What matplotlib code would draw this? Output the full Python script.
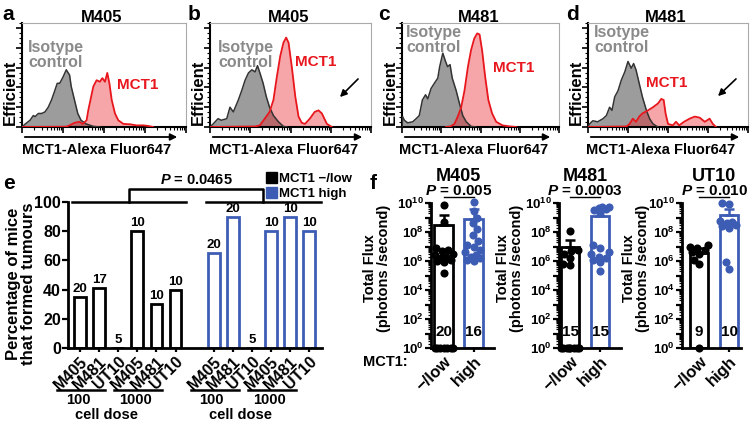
"""MCT1 flow histograms, tumour formation and bioluminescence flux panels."""

import matplotlib
matplotlib.use("Agg")
import matplotlib.pyplot as plt
import numpy as np
from matplotlib.patches import FancyArrowPatch, Patch
from matplotlib.ticker import FixedLocator, FuncFormatter, LogLocator, NullFormatter

plt.rcParams["font.family"] = ["Liberation Sans", "DejaVu Sans"]
plt.rcParams["font.weight"] = "bold"
plt.rcParams["mathtext.fontset"] = "custom"
plt.rcParams["mathtext.rm"] = "Liberation Sans:bold"
plt.rcParams["mathtext.it"] = "Liberation Sans:italic:bold"
plt.rcParams["mathtext.bf"] = "Liberation Sans:bold"

BLUE = "#3d5db4"
RED = "#e8161d"
GREY_FILL = "#9c9c9c"
GREY_TEXT = "#8a8a8a"

# ---- panels a-d: histograms (x, y as % of the plot box) ----
a_iso_x = [0, 1.8, 4.9, 6.9, 8, 10, 12, 14, 16, 18, 20, 21.5, 23, 25, 27, 29, 30, 32, 34, 36, 39, 43.5, 47.5]
a_iso_y = [0, 2.6, 6.5, 11, 10, 13, 13, 14.5, 19, 26, 35, 42, 42, 48, 55, 50, 39, 26, 13, 6.5, 3, 0.6, 0]
a_mct_x = [0, 27, 29, 32, 35, 37, 39.4, 40.4, 43.5, 45.5, 47.5, 49, 50.6, 52, 53.3, 54.7, 56.7, 58.7,
           61.8, 66, 70, 74, 77, 80]
a_mct_y = [0, 0.3, 1.6, 4, 5, 3, 6.5, 16, 39, 45, 43.5, 47, 43.5, 52, 42, 26, 13, 6.5, 3, 2.6, 1.5,
           1.6, 1, 0]

b_iso_x = [0, 2, 5, 7, 10.4, 12.4, 14.5, 17.6, 19.7, 21.8, 23.9, 26, 28, 29.5, 31, 33, 35, 37, 39.4,
           42.5, 45.6, 47.7]
b_iso_y = [0, 3, 8, 6.5, 8, 19, 14.5, 26, 35, 45, 52, 55, 53, 59, 52, 42, 29, 19, 11, 5, 0.6, 0]
b_mct_x = [0, 28, 31, 34, 37, 39.4, 41.5, 43.6, 45.6, 47.3, 48.8, 50.8, 53, 55, 57, 59, 62, 65, 67.4,
           69.5, 72.6, 75.7]
b_mct_y = [0, 0.5, 1.6, 8, 14.5, 26, 48, 68, 81, 86, 81, 58, 29, 10, 4, 3, 8, 14.5, 16, 13, 3, 0]

c_iso_x = [0, 0.4, 1.5, 3.6, 6.8, 9, 11, 13, 15, 16.4, 18.5, 20.6, 22.8, 24, 26, 27.4, 29, 30.6, 32,
           34.5, 36.6, 38.7, 40.9, 44, 47]
c_iso_y = [0, 10, 6.5, 4, 5, 8, 11, 26, 31, 27, 37, 42, 47, 58, 71, 64.5, 58, 60, 47, 35, 22.6, 11,
           5, 0.6, 0]
c_mct_x = [28, 31, 33.4, 35.5, 37.7, 39.8, 42, 44, 46, 47.9, 49.4, 51, 53, 55, 57.4, 60, 64, 68.5, 72.8]
c_mct_y = [0, 0.6, 3, 10, 19, 35, 58, 74, 85, 90, 89, 74, 48, 26, 13, 5, 1.6, 0.6, 0]

d_iso_x = [0, 1, 3, 6, 9.4, 11.5, 13.5, 15, 16.7, 18.8, 20.8, 23, 25, 27, 28.5, 30, 32, 34, 36.5,
           38.5, 40.6, 43.7]
d_iso_y = [0, 3, 6, 5, 8, 11, 19, 16, 29, 35, 45, 53, 63, 56.5, 61, 55, 42, 29, 16, 8, 3, 0]
d_mct_x = [0, 24, 26, 28, 30, 32, 34, 37.5, 40.6, 43.7, 45.8, 47.3, 48.5, 50, 53, 55, 57, 60, 63.5,
           66.7, 69.8, 73, 76, 78, 80]
d_mct_y = [0, 0.5, 3, 8, 5, 10, 13, 16, 19, 22.6, 27, 26, 13, 3, 1.6, 5, 1.6, 5, 8, 10, 9, 5, 8, 3, 0]

hist_titles = ["M405", "M405", "M481", "M481"]

# ---- panel e: tumour formation ----
e_lines = ["M405", "M481", "UT10", "M405", "M481", "UT10"]
e_doses = ["100", "1000"]
e_low_pct = [35, 41, 0, 80, 30, 40]
e_high_pct = [65, 90, 0, 80, 90, 80]
e_low_n = [20, 17, 5, 10, 10, 10]
e_high_n = [20, 20, 5, 10, 10, 10]
e_pvalue = "0.0465"

# ---- panel f: total flux (photons/second), 0 = no signal ----
f_lines = ["M405", "M481", "UT10"]
f_pvalues = ["0.005", "0.0003", "0.010"]
m405_low = [7e9, 5e8, 8e6, 6e6, 5e6, 3e6, 2.5e6, 2e6, 1.6e6, 1.2e6, 1e6, 8e5, 1.6e5,
            0, 0, 0, 0, 0, 0, 0]
m405_high = [1.2e10, 3e9, 1e9, 4e8, 1.6e8, 6e7, 2.5e7, 1.2e7, 1e7, 6e6, 4e6, 2.5e6, 2e6,
             1.6e6, 1.2e6, 1e6]
m481_low = [1.2e8, 6e6, 5e6, 3e6, 1.6e6, 6e5, 5e5, 0, 0, 0, 0, 0, 0, 0, 0]
m481_high = [5e9, 5e9, 4.5e9, 4e9, 3.5e9, 2e9, 1.2e7, 8e6, 4e6, 3e6, 2e6, 1.6e6, 1.2e6, 8e5, 2e5]
ut10_low = [1.2e7, 1e7, 8e6, 6e6, 4e6, 3e6, 1.2e6, 6e5, 0]
ut10_high = [1e10, 9e9, 6e8, 5e8, 4e8, 3e8, 2.5e8, 2e8, 8e5, 3e5]
f_low_mean = [3e8, 9e6, 3.5e6]
f_high_mean = [8e8, 1.2e9, 1.5e9]
f_low_err = [1.6e9, 3e7, 8e6]
f_high_err = [4e9, 4e9, 4e9]

W, H = 752, 421
fig = plt.figure(figsize=(W / 100, H / 100), dpi=100)


def px_box(x0, y0, x1, y1):
    return [x0 / W, 1 - y1 / H, (x1 - x0) / W, (y1 - y0) / H]


def fpt(x, y):
    return (x / W, 1 - y / H)


def ftext(x, y, s, **kw):
    fig.text(*fpt(x, y), s, **kw)


# ---------------- a-d ----------------
hist_boxes = [(22, 186), (210, 371), (402, 559), (588, 748)]
hist_data = [(a_iso_x, a_iso_y, a_mct_x, a_mct_y), (b_iso_x, b_iso_y, b_mct_x, b_mct_y),
             (c_iso_x, c_iso_y, c_mct_x, c_mct_y), (d_iso_x, d_iso_y, d_mct_x, d_mct_y)]
iso_pos = [(28, 55), (218, 55), (406, 40), (594, 40)]
mct_pos = [(117, 85), (295, 62), (493, 68), (646, 83)]
arrows = [None, ((360, 77), (338, 99)), None, ((738, 77), (716, 98))]
letters = ["a", "b", "c", "d"]
letter_x = [2, 188, 378, 566]
bottom_minor = [25 * (d + np.log10(k)) for d in range(4) for k in range(2, 10)]

for i, (x0, x1) in enumerate(hist_boxes):
    ax = fig.add_axes(px_box(x0, 23, x1, 127))
    ix, iy, mx, my = hist_data[i]
    ax.fill_between(ix, iy, color=GREY_FILL, lw=0, zorder=1)
    ax.fill_between(mx, my, color=RED, alpha=0.38, lw=0, zorder=2)
    ax.plot(ix, iy, color="#333333", lw=1.1, zorder=3)
    ax.plot(mx, my, color=RED, lw=1.3, zorder=4)
    ax.set_xlim(0, 100)
    ax.set_ylim(0, 100)
    for s in ("top", "right"):
        ax.spines[s].set_color("#aaaaaa")
        ax.spines[s].set_linewidth(0.8)
    for s in ("left", "bottom"):
        ax.spines[s].set_linewidth(1.5)
    ax.xaxis.set_major_locator(FixedLocator([0, 25, 50, 75, 100]))
    ax.xaxis.set_minor_locator(FixedLocator(bottom_minor))
    ax.yaxis.set_major_locator(FixedLocator([0, 19, 38, 57, 76, 95]))
    ax.yaxis.set_minor_locator(FixedLocator(np.arange(0, 100, 4.75)))
    ax.tick_params(which="major", direction="out", length=4, width=1.2, labelbottom=False,
                   labelleft=False)
    ax.tick_params(which="minor", direction="out", length=2, width=0.8)

    xc = (x0 + x1) / 2
    ftext(xc - 2, 22, hist_titles[i], fontsize=12, ha="center", va="baseline")
    ftext(letter_x[i], 20, letters[i], fontsize=15, ha="left", va="baseline")
    ftext(x0 - 12, 92, "Efficient", fontsize=12, rotation=90, ha="center", va="center")
    ftext(xc - 7, 150, "MCT1-Alexa Fluor647", fontsize=10.5, ha="center", va="center")
    ftext(iso_pos[i][0], iso_pos[i][1], "Isotype\ncontrol", fontsize=11.5, color=GREY_TEXT,
          ha="left", va="center", linespacing=0.92)
    ftext(mct_pos[i][0], mct_pos[i][1], "MCT1", fontsize=11, color=RED, ha="left", va="center")
    fig.add_artist(FancyArrowPatch(fpt(x0, 137), fpt(x1 - 6, 137), transform=fig.transFigure,
                                   arrowstyle="-|>", mutation_scale=10, lw=1.3, color="black"))
    if arrows[i] is not None:
        (sx, sy), (ex, ey) = arrows[i]
        fig.add_artist(FancyArrowPatch(fpt(sx, sy), fpt(ex, ey), transform=fig.transFigure,
                                       arrowstyle="-|>", mutation_scale=10, lw=1.2,
                                       color="black"))

# ---------------- e ----------------
ax = fig.add_axes(px_box(68, 202, 322, 348))
low_pos = np.arange(6)
high_pos = np.arange(7, 13)
ax.bar(low_pos, e_low_pct, width=0.62, facecolor="white", edgecolor="black", linewidth=2, zorder=2)
ax.bar(high_pos, e_high_pct, width=0.62, facecolor="white", edgecolor=BLUE, linewidth=2, zorder=2)
for pos, vals, ns in ((low_pos, e_low_pct, e_low_n), (high_pos, e_high_pct, e_high_n)):
    for p, v, n in zip(pos, vals, ns):
        ax.text(p, v + 1.2, str(n), fontsize=9.5, ha="center", va="bottom")
ax.set_xlim(-0.63, 12.67)
ax.set_ylim(0, 100)
ax.spines[["top", "right"]].set_visible(False)
ax.spines[["left", "bottom"]].set_linewidth(2)
ax.set_yticks([0, 20, 40, 60, 80, 100])
ax.set_xticks(np.concatenate([low_pos, high_pos]))
ax.set_xticklabels(e_lines + e_lines, rotation=45, ha="right", rotation_mode="anchor", fontsize=11.5)
ax.tick_params(axis="y", length=4, width=1.6, labelsize=11.5, pad=1)
ax.tick_params(axis="x", length=3, width=1.6, pad=1)

# significance bracket across both groups
kw = dict(color="black", lw=1.8, clip_on=False)
ax.plot([-0.42, 5.55], [100, 100], **kw)
ax.plot([6.6, 12.6], [100, 100], **kw)
ax.plot([2.57, 2.57, 9.6, 9.6], [100, 109, 109, 100], **kw)
ax.text(6.08, 112.5, rf"$\mathit{{P}}$ = {e_pvalue}", fontsize=10.5, ha="center", va="baseline")
for g, dose in zip([0, 3, 7, 10], e_doses + e_doses):
    ax.plot([g - 1.2, g + 1.3], [-28.8, -28.8], **kw)
    ax.text(g - 0.1, -35.8, dose, fontsize=10.5, ha="center", va="center")
for g in [2.0, 9.0]:
    ax.text(g - 0.6, -46.2, "cell dose", fontsize=10.5, ha="center", va="center")

handles = [Patch(facecolor="black", edgecolor="black"), Patch(facecolor=BLUE, edgecolor=BLUE)]
fig.legend(handles, ["MCT1 \u2212/low", "MCT1 high"], loc="upper left",
           bbox_to_anchor=fpt(266, 172), frameon=False, fontsize=9.5, handlelength=0.8,
           handleheight=0.9, handletextpad=0.2, labelspacing=0.12, borderpad=0, borderaxespad=0)
ftext(21, 284, "Percentage of mice\nthat formed tumours", fontsize=12, rotation=90,
      ha="center", va="center", linespacing=0.95)
ftext(3, 189, "e", fontsize=15, ha="left", va="baseline")


# ---------------- f ----------------
def swarm(vals, unit_px, dec_px, diam=7.0, max_off=9.0):
    """Deterministic beeswarm x offsets (in data units)."""
    ys = np.log10(np.maximum(vals, 1.0)) * dec_px
    placed = []
    offs = np.zeros(len(vals))
    cands = sorted(np.arange(-max_off, max_off + 0.25, 0.5), key=abs)
    for i in np.argsort(ys):
        best, best_d = 0.0, -1.0
        for c in cands:
            d = min((np.hypot(c - px, ys[i] - py) for px, py in placed), default=np.inf)
            if d >= diam:
                best = c
                break
            if d > best_d:
                best, best_d = c, d
        placed.append((best, ys[i]))
        offs[i] = best / unit_px
    return offs


f_boxes = [(431, 494, -0.42), (559, 621, -0.37), (682, 741, -0.57)]
f_label_x = [377, 510, 636]
f_low = [m405_low, m481_low, ut10_low]
f_high = [m405_high, m481_high, ut10_high]

for i, (x0, x1, left) in enumerate(f_boxes):
    ax = fig.add_axes(px_box(x0, 203, x1, 348))
    ax.set_yscale("log")
    ax.set_ylim(1, 1e10)
    ax.set_xlim(left, left + (x1 - x0) / 30)
    for xpos, mean, err, vals, col in ((0, f_low_mean[i], f_low_err[i], f_low[i], "black"),
                                       (1, f_high_mean[i], f_high_err[i], f_high[i], BLUE)):
        ax.bar(xpos, mean - 1, bottom=1, width=0.62, facecolor="white", edgecolor=col,
               linewidth=2, zorder=2)
        ax.errorbar(xpos, mean, yerr=[[0], [err - mean]], fmt="none", ecolor=col,
                    elinewidth=1.8, capsize=3.5, capthick=1.8, zorder=3)
        offs = swarm(vals, 30, 14.5)
        ax.scatter(xpos + offs, np.maximum(vals, 1), s=34, color=col, lw=0, zorder=4,
                   clip_on=False)
        ax.text(xpos, 10 ** 0.83, str(len(vals)), fontsize=11, ha="center", va="baseline",
                zorder=5)
    ax.plot([0, 1], [10 ** 10.41, 10 ** 10.41], color="black", lw=1, clip_on=False)
    ax.text(0.5, 10 ** 10.55, rf"$\mathit{{P}}$ = {f_pvalues[i]}", fontsize=11, ha="center",
            va="baseline")
    ax.text(0.5, 10 ** 11.55, f_lines[i], fontsize=13, ha="center", va="baseline")
    ax.spines[["top", "right"]].set_visible(False)
    ax.spines[["left", "bottom"]].set_linewidth(2)
    ax.yaxis.set_major_locator(LogLocator(base=10, numticks=12))
    ax.yaxis.set_minor_locator(LogLocator(base=10, subs=np.arange(2, 10), numticks=12))
    ax.yaxis.set_minor_formatter(NullFormatter())
    ax.yaxis.set_major_formatter(FuncFormatter(
        lambda v, p: f"$10^{{{int(round(np.log10(v)))}}}$" if round(np.log10(v)) % 2 == 0 else ""))
    ax.tick_params(axis="y", which="major", length=4, width=1.6, labelsize=9.5, pad=1)
    ax.tick_params(axis="y", which="minor", length=2.2, width=0.9)
    ax.set_xticks([0, 1])
    ax.set_xticklabels(["\u2212/low", "high"], rotation=45, ha="right", rotation_mode="anchor",
                       fontsize=12)
    ax.tick_params(axis="x", length=3, width=1.6, pad=1)
    ftext(f_label_x[i], 268, "Total Flux\n(photons /second)", fontsize=10.5, rotation=90,
          ha="center", va="center", linespacing=1.0)

ftext(408, 362, "MCT1:", fontsize=10.5, ha="right", va="center")
ftext(370, 189, "f", fontsize=15, ha="left", va="baseline")

fig.savefig("out.png", dpi=100)
